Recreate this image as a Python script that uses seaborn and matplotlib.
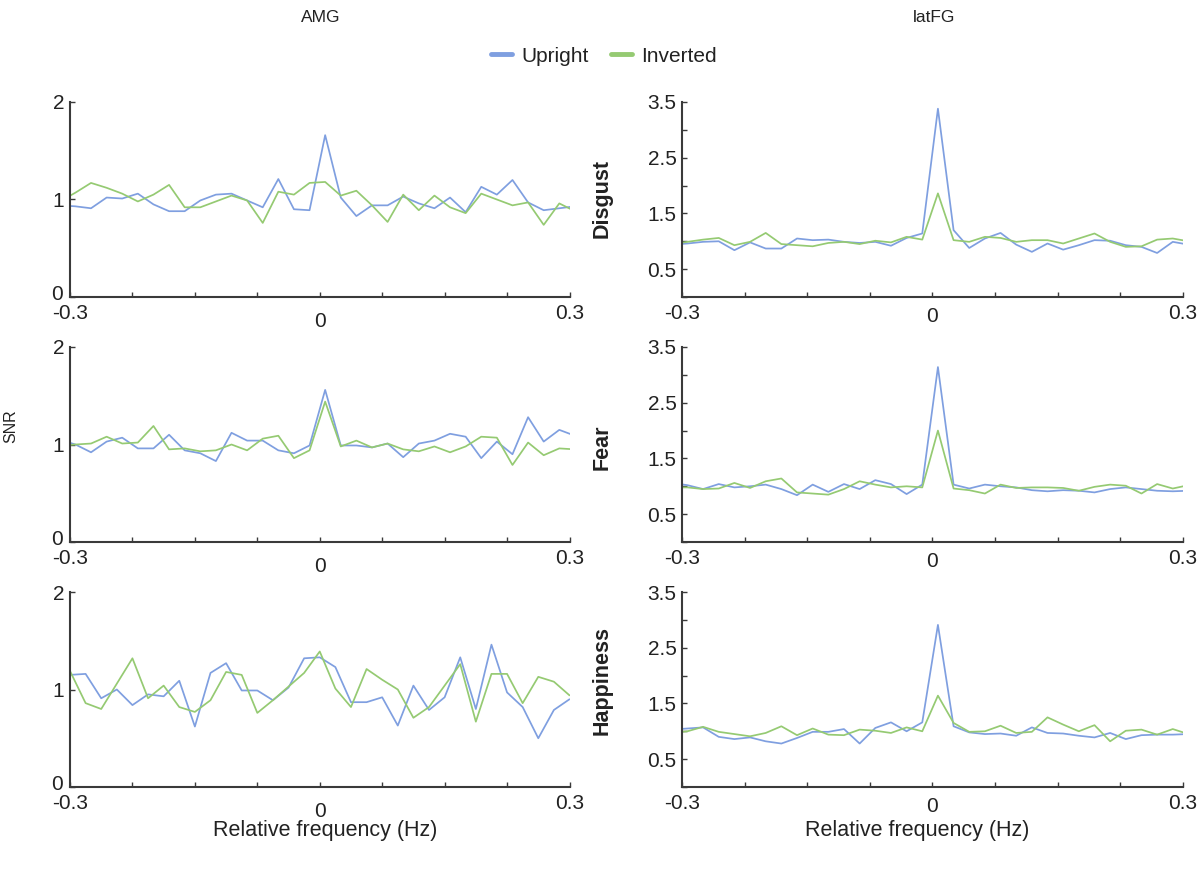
import numpy as np
import pandas as pd
import matplotlib
matplotlib.use("Agg")
import matplotlib.pyplot as plt
import matplotlib.transforms as mtransforms
import seaborn as sns
from matplotlib.lines import Line2D

# ---------------- data ----------------
# frequency bins (Hz, relative to the stimulation frequency)
freq_bins = [-0.31225, -0.2935, -0.27475, -0.256, -0.23725, -0.2185, -0.19975,
             -0.181, -0.16225, -0.1435, -0.12475, -0.106, -0.08725, -0.0685,
             -0.04975, -0.031, -0.01225, 0.0065, 0.02525, 0.044, 0.06275,
             0.0815, 0.10025, 0.119, 0.13775, 0.1565, 0.17525, 0.194, 0.21275,
             0.2315, 0.25025, 0.269, 0.28775, 0.3065]
freq_bins_amg_happiness = [-0.3, -0.28125, -0.2625, -0.24375, -0.225, -0.20625,
                           -0.1875, -0.16875, -0.15, -0.13125, -0.1125, -0.09375,
                           -0.075, -0.05625, -0.0375, -0.01875, 0.0, 0.01875,
                           0.0375, 0.05625, 0.075, 0.09375, 0.1125, 0.13125, 0.15,
                           0.16875, 0.1875, 0.20625, 0.225, 0.24375, 0.2625,
                           0.28125, 0.3]

amg_disgust_upright = [0.94, 0.93, 0.91, 1.02, 1.01, 1.06, 0.95, 0.88, 0.88, 0.99, 1.05, 1.06,
                       0.99, 0.92, 1.21, 0.90, 0.89, 1.66, 1.02, 0.83, 0.94, 0.94, 1.03, 0.96,
                       0.91, 1.02, 0.87, 1.13, 1.05, 1.20, 0.97, 0.89, 0.91, 0.93]
amg_disgust_inverted = [0.98, 1.07, 1.17, 1.12, 1.06, 0.98, 1.05, 1.15, 0.92, 0.92, 0.98, 1.04,
                        0.99, 0.76, 1.08, 1.05, 1.17, 1.18, 1.04, 1.09, 0.94, 0.77, 1.05, 0.89,
                        1.04, 0.92, 0.86, 1.06, 1.00, 0.94, 0.97, 0.74, 0.96, 0.88]
amg_fear_upright = [1.05, 1.00, 0.92, 1.03, 1.07, 0.96, 0.96, 1.10, 0.94, 0.91, 0.83, 1.12,
                    1.04, 1.04, 0.94, 0.91, 0.99, 1.56, 0.99, 0.99, 0.97, 1.01, 0.87, 1.01,
                    1.04, 1.11, 1.08, 0.86, 1.03, 0.90, 1.28, 1.03, 1.15, 1.09]
amg_fear_inverted = [0.99, 1.00, 1.01, 1.08, 1.01, 1.02, 1.19, 0.95, 0.96, 0.93, 0.94, 1.00,
                     0.94, 1.06, 1.09, 0.86, 0.94, 1.44, 0.98, 1.04, 0.97, 1.01, 0.95, 0.93,
                     0.98, 0.92, 0.98, 1.08, 1.07, 0.79, 1.02, 0.89, 0.96, 0.95]
amg_happiness_upright = [1.15, 1.16, 0.91, 1.00, 0.84, 0.95, 0.93, 1.09, 0.62, 1.17, 1.27,
                         0.99, 0.99, 0.89, 1.02, 1.32, 1.33, 1.23, 0.87, 0.87, 0.92, 0.63,
                         1.04, 0.79, 0.92, 1.33, 0.80, 1.46, 0.97, 0.82, 0.50, 0.79, 0.90]
amg_happiness_inverted = [1.19, 0.86, 0.80, 1.06, 1.32, 0.91, 1.04, 0.82, 0.77, 0.89, 1.18,
                          1.15, 0.76, 0.89, 1.03, 1.17, 1.39, 1.01, 0.82, 1.21, 1.10, 1.00,
                          0.71, 0.82, 1.04, 1.26, 0.67, 1.16, 1.16, 0.86, 1.13, 1.08, 0.94]

latfg_disgust_upright = [0.94, 0.96, 0.99, 1.00, 0.84, 0.98, 0.87, 0.87, 1.05, 1.02, 1.03, 0.99,
                         0.97, 0.99, 0.92, 1.06, 1.14, 3.38, 1.20, 0.88, 1.05, 1.15, 0.94, 0.81,
                         0.96, 0.85, 0.93, 1.02, 1.01, 0.93, 0.90, 0.79, 0.99, 0.94]
latfg_disgust_inverted = [0.95, 0.99, 1.03, 1.06, 0.93, 0.99, 1.15, 0.95, 0.93, 0.91, 0.97, 0.99,
                          0.95, 1.01, 0.98, 1.08, 1.03, 1.86, 1.02, 0.99, 1.08, 1.06, 0.99, 1.02,
                          1.02, 0.96, 1.05, 1.14, 0.99, 0.90, 0.91, 1.03, 1.05, 1.00]
latfg_fear_upright = [1.06, 1.02, 0.95, 1.04, 0.98, 1.00, 1.03, 0.95, 0.84, 1.03, 0.90, 1.04,
                      0.95, 1.11, 1.04, 0.86, 1.03, 3.14, 1.03, 0.96, 1.03, 1.00, 0.98, 0.93,
                      0.91, 0.93, 0.92, 0.89, 0.95, 0.98, 0.95, 0.92, 0.91, 0.92]
latfg_fear_inverted = [0.98, 0.98, 0.95, 0.96, 1.06, 0.97, 1.09, 1.14, 0.89, 0.87, 0.85, 0.95,
                       1.09, 1.03, 0.98, 1.00, 0.98, 2.00, 0.96, 0.93, 0.87, 1.03, 0.97, 0.98,
                       0.98, 0.97, 0.92, 0.99, 1.03, 1.01, 0.87, 1.04, 0.96, 1.02]
latfg_happiness_upright = [1.03, 1.05, 1.07, 0.90, 0.86, 0.89, 0.82, 0.78, 0.88, 0.99, 0.99, 1.04,
                           0.78, 1.06, 1.16, 1.00, 1.16, 2.91, 1.09, 0.98, 0.95, 0.96, 0.92, 1.07,
                           0.97, 0.96, 0.92, 0.89, 0.97, 0.86, 0.93, 0.94, 0.94, 0.95]
latfg_happiness_inverted = [0.97, 1.00, 1.08, 0.99, 0.95, 0.91, 0.97, 1.09, 0.93, 1.05, 0.94, 0.93,
                            1.03, 1.01, 0.97, 1.07, 1.00, 1.64, 1.15, 0.99, 1.00, 1.10, 0.97, 0.99,
                            1.25, 1.12, 1.00, 1.11, 0.82, 1.01, 1.03, 0.94, 1.04, 0.95]

regions = ["AMG", "latFG"]
emotions = ["Disgust", "Fear", "Happiness"]
conditions = ["Upright", "Inverted"]

x_tick_values = [-0.3, -0.225, -0.15, -0.075, 0.0, 0.075, 0.15, 0.225, 0.3]
x_tick_labels = ["-0.3", "", "", "", "0", "", "", "", "0.3"]
amg_y_ticks = [0, 1, 2]
amg_y_labels = ["0", "1", "2"]
latfg_y_ticks = [0, 0.5, 1.0, 1.5, 2.0, 2.5, 3.0, 3.5]
latfg_y_labels = ["", "0.5", "", "1.5", "", "2.5", "", "3.5"]

panels = {
    ("AMG", "Disgust"): (freq_bins, amg_disgust_upright, amg_disgust_inverted),
    ("AMG", "Fear"): (freq_bins, amg_fear_upright, amg_fear_inverted),
    ("AMG", "Happiness"): (freq_bins_amg_happiness, amg_happiness_upright, amg_happiness_inverted),
    ("latFG", "Disgust"): (freq_bins, latfg_disgust_upright, latfg_disgust_inverted),
    ("latFG", "Fear"): (freq_bins, latfg_fear_upright, latfg_fear_inverted),
    ("latFG", "Happiness"): (freq_bins, latfg_happiness_upright, latfg_happiness_inverted),
}

# ---------------- style ----------------
sns.set_theme(style="ticks")
plt.rcParams["font.family"] = ["Liberation Sans", "DejaVu Sans"]

BLUE = "#7F9FE0"
GREEN = "#95CA72"
palette = {"Upright": BLUE, "Inverted": GREEN}
AXIS_COLOR = "#3a3a3a"
TEXT_COLOR = "#222222"

W, H = 1197, 872
fig = plt.figure(figsize=(W / 100, H / 100), dpi=100)

col_px = {"AMG": (70, 569.5), "latFG": (682, 1183)}
row_px = {"Disgust": (102, 297), "Fear": (347, 542), "Happiness": (592, 787)}

TICK_PAD = 5.0

for region in regions:
    for emotion in emotions:
        l, r = col_px[region]
        t, b = row_px[emotion]
        ax = fig.add_axes([l / W, 1 - b / H, (r - l) / W, (b - t) / H])
        freqs, up, inv = panels[(region, emotion)]
        df = pd.DataFrame({
            "freq": list(freqs) * 2,
            "snr": list(up) + list(inv),
            "cond": ["Upright"] * len(up) + ["Inverted"] * len(inv),
        })
        sns.lineplot(data=df, x="freq", y="snr", hue="cond", hue_order=conditions,
                     palette=palette, estimator=None, linewidth=1.25, legend=False, ax=ax)
        ax.set_xlim(-0.3, 0.3)
        if region == "AMG":
            ax.set_ylim(0, 2)
            ax.set_yticks(amg_y_ticks)
            ax.set_yticklabels(amg_y_labels)
        else:
            ax.set_ylim(0, 3.5)
            ax.set_yticks(latfg_y_ticks)
            ax.set_yticklabels(latfg_y_labels)
        ax.set_xticks(x_tick_values)
        ax.set_xticklabels(x_tick_labels)
        ax.set_xlabel("")
        ax.set_ylabel("")
        for side in ["top", "right"]:
            ax.spines[side].set_visible(False)
        for side in ["left", "bottom"]:
            ax.spines[side].set_color(AXIS_COLOR)
            ax.spines[side].set_linewidth(1.5)
        ax.tick_params(direction="in", length=3.5, width=1.0, color=AXIS_COLOR,
                       labelcolor=TEXT_COLOR, labelsize=15)
        ax.tick_params(axis="x", pad=TICK_PAD)
        ax.tick_params(axis="y", pad=4.0)
        ax.set_facecolor("white")
        # the "0" label sits slightly lower than the end labels
        xt = ax.xaxis.get_major_ticks()
        xt[4].set_pad(TICK_PAD + (6 if region == "AMG" else 2.5))
        # lift the bottom y label a little so it clears the "-0.3" label
        if region == "AMG":
            yl = ax.yaxis.get_major_ticks()[0].label1
            yl.set_transform(yl.get_transform() +
                             mtransforms.ScaledTranslation(-1 / 72, 3 / 72, fig.dpi_scale_trans))

        if region == "latFG":
            label_y = {"Disgust": 198, "Fear": 447, "Happiness": 680}[emotion]
            fig.text(602 / W, 1 - label_y / H, emotion, rotation=90, ha="center",
                     va="center", fontsize=15.5, fontweight="bold", color=TEXT_COLOR)

# column titles
fig.text(321 / W, 1 - 17 / H, "AMG", ha="center", va="center", fontsize=12.5, color=TEXT_COLOR)
fig.text(934 / W, 1 - 17 / H, "latFG", ha="center", va="center", fontsize=12.5, color=TEXT_COLOR)

# x labels
fig.text(325 / W, 1 - 830 / H, "Relative frequency (Hz)", ha="center", va="center",
         fontsize=15.5, color=TEXT_COLOR)
fig.text(917 / W, 1 - 830 / H, "Relative frequency (Hz)", ha="center", va="center",
         fontsize=15.5, color=TEXT_COLOR)

# y label
fig.text(11 / W, 1 - 426 / H, "SNR", rotation=90, ha="center", va="center",
         fontsize=11.5, color=TEXT_COLOR)

# legend
handles = [Line2D([], [], color=palette[c], lw=3.5) for c in conditions]
fig.legend(handles, conditions, loc="center", bbox_to_anchor=(604 / W, 1 - 56 / H),
           ncol=2, frameon=False, fontsize=15, handlelength=1.0, handletextpad=0.45,
           columnspacing=1.1, labelcolor=TEXT_COLOR)

fig.savefig("out.png", dpi=100, facecolor="white")
